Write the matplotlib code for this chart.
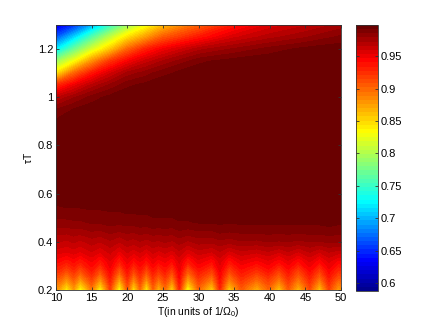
import numpy as np
import matplotlib
matplotlib.use('Agg')
import matplotlib.pyplot as plt
from matplotlib.colors import LinearSegmentedColormap

plt.rcParams['font.family'] = ['Liberation Sans', 'DejaVu Sans']
plt.rcParams['mathtext.fontset'] = 'custom'
plt.rcParams['mathtext.rm'] = 'Liberation Sans'
plt.rcParams['mathtext.it'] = 'Liberation Sans'

# low part of the map, columns sit on the ripple peaks and troughs
T_low = [10, 10.5, 11.5, 12.5, 13.4, 15, 16.2, 17.6, 18.9, 20, 20.9, 21.8, 22.7, 23.6, 24.4, 25.3, 26.3,
         27.3, 28.5, 30, 31.9, 33, 34.3, 36, 38.2, 39.8, 41.3, 42.6, 44, 45.6, 47, 48.3, 49.6, 50]
tau_low = [0.2, 0.22, 0.25, 0.28, 0.32, 0.36, 0.40, 0.44, 0.48, 0.52, 0.56, 0.6]
F_low = [
    [.875, .870, .835, .875, .825, .890, .830, .915, .825, .905, .840, .895, .835, .900, .860, .895, .845,
     .925, .825, .900, .850, .925, .850, .905, .865, .900, .855, .905, .860, .910, .855, .915, .875, .880],
    [.888, .885, .858, .888, .852, .902, .855, .922, .850, .912, .862, .905, .858, .908, .878, .905, .868,
     .932, .850, .908, .870, .932, .870, .912, .882, .908, .875, .912, .878, .918, .875, .922, .888, .892],
    [.908, .906, .888, .908, .884, .920, .886, .934, .880, .926, .892, .920, .888, .922, .902, .920, .894,
     .941, .880, .922, .896, .941, .894, .926, .904, .922, .898, .926, .898, .930, .898, .934, .908, .910],
    [.926, .925, .912, .926, .910, .935, .912, .944, .906, .938, .915, .934, .912, .936, .922, .935, .916,
     .948, .906, .936, .918, .948, .915, .938, .924, .938, .918, .938, .916, .942, .918, .944, .926, .928],
    [.943, .942, .936, .943, .935, .948, .936, .953, .933, .950, .939, .948, .938, .950, .943, .949, .940,
     .955, .934, .951, .941, .956, .938, .952, .945, .952, .942, .952, .940, .954, .942, .955, .945, .946],
    [.957, .956, .954, .957, .953, .960, .954, .962, .952, .961, .956, .961, .955, .962, .958, .962, .957,
     .965, .955, .964, .960, .966, .958, .965, .962, .966, .961, .966, .960, .967, .961, .967, .964, .964],
    [.966, .966, .964, .967, .964, .969, .966, .971, .966, .971, .969, .972, .969, .972, .971, .973, .971,
     .975, .971, .975, .974, .977, .975, .978, .977, .979, .978, .979, .977, .979, .978, .980, .979, .979],
    [.975, .975, .974, .976, .975, .978, .977, .980, .978, .980, .979, .981, .980, .982, .981, .982, .981,
     .984, .982, .984, .984, .986, .985, .986, .986, .987, .986, .987, .986, .987, .987, .988, .987, .987],
    [.983, .983, .983, .984, .984, .986, .986, .988, .987, .988, .988, .989, .989, .990, .990, .990, .990,
     .991, .991, .992, .992, .993, .992, .993, .993, .993, .993, .993, .993, .993, .993, .994, .993, .993],
    [.988, .988, .989, .989, .989, .990, .990, .991, .991, .992, .992, .992, .992, .993, .993, .993, .993,
     .994, .994, .995, .995, .995, .995, .995, .995, .995, .995, .995, .995, .995, .995, .995, .995, .995],
    [.993, .993, .994, .994, .994, .995, .995, .995, .995, .995, .995, .996, .996, .996, .996, .996, .996,
     .996, .996, .996, .996, .996, .996, .996, .996, .996, .996, .996, .996, .996, .996, .996, .996, .996],
    [.997, .997, .997, .997, .997, .997, .997, .997, .997, .997, .997, .997, .997, .997, .997, .997, .997,
     .997, .997, .997, .997, .997, .997, .997, .997, .997, .997, .997, .997, .997, .997, .997, .997, .997],
]

# upper part, smooth so a coarse table is enough
T_high = [10, 12.5, 15, 17.5, 20, 22.5, 25, 30, 35, 40, 45, 50]
tau_high = [0.6, 0.9, 0.95, 1.0, 1.05, 1.1, 1.15, 1.2, 1.25, 1.3]
F_high = [
    [.997, .997, .997, .997, .997, .997, .997, .997, .997, .997, .997, .997],
    [.993, .996, .997, .997, .997, .997, .997, .997, .997, .997, .997, .997],
    [.985, .992, .996, .997, .997, .997, .997, .997, .997, .997, .997, .997],
    [.965, .978, .988, .994, .997, .997, .997, .997, .997, .997, .997, .997],
    [.925, .950, .968, .980, .990, .994, .996, .997, .997, .997, .997, .997],
    [.845, .900, .935, .958, .975, .982, .990, .996, .997, .997, .997, .997],
    [.790, .830, .880, .920, .945, .962, .973, .990, .995, .997, .997, .997],
    [.720, .770, .815, .855, .900, .930, .948, .970, .980, .988, .994, .996],
    [.665, .710, .760, .805, .845, .875, .905, .935, .958, .970, .978, .987],
    [.625, .650, .695, .745, .790, .825, .860, .900, .935, .955, .965, .975],
]

levels = np.linspace(0.588, 0.998, 65)
xticks = [10, 15, 20, 25, 30, 35, 40, 45, 50]
yticks = [0.2, 0.4, 0.6, 0.8, 1, 1.2]
yticklabels = ['0.2', '0.4', '0.6', '0.8', '1', '1.2']
cticks = [0.6, 0.65, 0.7, 0.75, 0.8, 0.85, 0.9, 0.95]
cticklabels = ['0.6', '0.65', '0.7', '0.75', '0.8', '0.85', '0.9', '0.95']

# matlab style jet, the dark end of the reference is a bit darker than matplotlib's
jet = LinearSegmentedColormap.from_list('jet64', [
    (0.0, '#00008f'), (0.11, '#0000ff'), (0.335, '#00ffff'), (0.60, '#ffff00'),
    (0.875, '#ff0000'), (1.0, '#6a0000')], N=64)

fig = plt.figure(figsize=(4.36, 3.28), dpi=100)
ax = fig.add_axes([56 / 436, 38 / 328, 285 / 436, 265 / 328])
cax = fig.add_axes([356 / 436, 37 / 328, 22 / 436, 266 / 328])

cs = ax.contourf(T_low, tau_low, F_low, levels=levels, cmap=jet)
ax.contourf(T_high, tau_high, F_high, levels=levels, cmap=jet)
ax.set_xlim(10, 50)
ax.set_ylim(0.2, 1.3)
ax.set_xticks(xticks)
ax.set_yticks(yticks)
ax.set_yticklabels(yticklabels)
ax.tick_params(direction='in', length=2.5, width=0.6, labelsize=8, top=True, right=True, pad=2, color='#333333')
ax.set_xlabel(r'T(in units of 1/$\Omega_0$)', fontsize=7.5, labelpad=1.5)
ax.set_ylabel(r'$\tau$T', fontsize=7.5, labelpad=3)

cb = fig.colorbar(cs, cax=cax)
cb.set_ticks(cticks)
cb.set_ticklabels(cticklabels)
cb.ax.tick_params(direction='in', length=2.5, width=0.6, labelsize=8, left=True, right=True, pad=2, color='#333333')

for a in [ax, cax]:
    for s in a.spines.values():
        s.set_linewidth(0.6)
        s.set_color('#333333')

fig.savefig('out.png', dpi=100)
